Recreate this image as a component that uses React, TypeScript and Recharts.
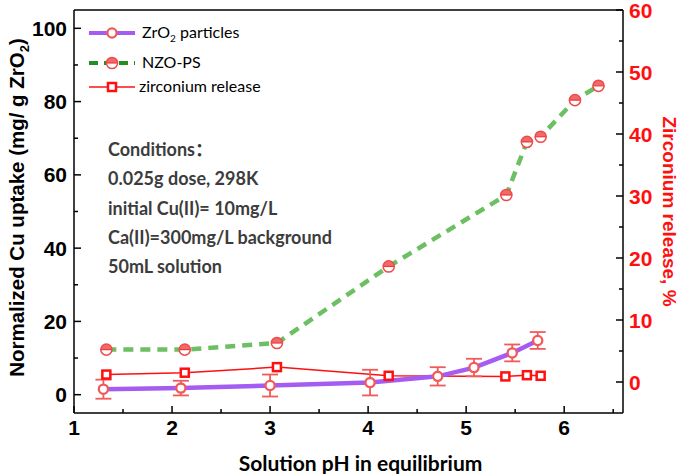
import React from 'react';
import { ComposedChart, Line, XAxis, YAxis, ErrorBar, Legend, Label, ReferenceLine } from 'recharts';

// ZrO2 particles (left axis)
const zrPH = [1.3, 2.09, 3.0, 4.02, 4.71, 5.08, 5.47, 5.73];
const zrUptake = [1.5, 1.8, 2.5, 3.3, 5.0, 7.4, 11.4, 14.8];
const zrErr = [2.6, 2.0, 3.0, 3.5, 2.5, 2.4, 2.3, 2.3];

// NZO-PS (left axis)
const nzPH = [1.33, 2.13, 3.07, 4.21, 5.41, 5.62, 5.76, 6.11, 6.35];
const nzUptake = [12.3, 12.3, 14.1, 35.0, 54.5, 69.0, 70.4, 80.4, 84.3];

// zirconium release (right axis, %)
const relPH = [1.33, 2.13, 3.07, 4.21, 5.4, 5.62, 5.76];
const relPct = [1.2, 1.5, 2.4, 1.0, 0.9, 1.1, 1.0];

const xTicks = [1, 1.5, 2, 2.5, 3, 3.5, 4, 4.5, 5, 5.5, 6, 6.5];
const leftTicks = [0, 10, 20, 30, 40, 50, 60, 70, 80, 90, 100];
const rightTicks = [0, 5, 10, 15, 20, 25, 30, 35, 40, 45, 50, 55, 60];

const conditions = [
  'Conditions：',
  '0.025g dose, 298K',
  'initial Cu(II)= 10mg/L',
  'Ca(II)=300mg/L background',
  '50mL solution',
];

// merged table keyed by pH
const rowMap = new Map<number, any>();
const row = (ph: number) => {
  if (!rowMap.has(ph)) rowMap.set(ph, { ph });
  return rowMap.get(ph);
};
zrPH.forEach((ph, i) => {
  const r = row(ph);
  r.zr = zrUptake[i];
  r.zrErr = zrErr[i];
});
nzPH.forEach((ph, i) => {
  row(ph).nz = nzUptake[i];
});
relPH.forEach((ph, i) => {
  row(ph).rel = relPct[i];
});
const tableData = Array.from(rowMap.values()).sort((a, b) => a.ph - b.ph);

const ARIAL = '"Liberation Sans", Arial, sans-serif';
const CAL = 'Lato, "Noto Sans CJK SC", sans-serif';
const PURPLE = '#a45cf2';
const GREEN = '#6cbf62';
const MRED = '#f25a5a';
const RED = '#ff1010';

const LeftTick = (p: any) => {
  const { x, y, payload } = p;
  const v = payload.value;
  const major = v % 20 === 0;
  return (
    <g>
      <line x1={x} y1={y} x2={x + (major ? 7 : 4)} y2={y} stroke="#000" strokeWidth={1.5} />
      {major && (
        <text x={x - 7} y={y} dy="0.36em" textAnchor="end" fontFamily={ARIAL} fontWeight="bold" fontSize={21} fill="#000">
          {v}
        </text>
      )}
    </g>
  );
};

const RightTick = (p: any) => {
  const { x, y, payload } = p;
  const v = payload.value;
  const major = v % 10 === 0;
  return (
    <g>
      <line x1={x} y1={y} x2={x - (major ? 7 : 4)} y2={y} stroke="#000" strokeWidth={1.5} />
      {major && (
        <text x={x + 6} y={y} dy="0.36em" textAnchor="start" fontFamily={ARIAL} fontWeight="bold" fontSize={21} fill={RED}>
          {v}
        </text>
      )}
    </g>
  );
};

const BottomTick = (p: any) => {
  const { x, y, payload } = p;
  const v = payload.value;
  const major = Number.isInteger(v);
  return (
    <g>
      <line x1={x} y1={y} x2={x} y2={y - (major ? 7 : 4)} stroke="#000" strokeWidth={1.5} />
      {major && (
        <text x={x} y={y + 22} textAnchor="middle" fontFamily={ARIAL} fontWeight="bold" fontSize={21} fill="#000">
          {v}
        </text>
      )}
    </g>
  );
};

const OpenCircle = (p: any) => {
  const { cx, cy, index } = p;
  if (cx == null || cy == null || p.value == null) return <g key={index} />;
  return <circle key={index} cx={cx} cy={cy} r={4.6} fill="#fff" stroke={MRED} strokeWidth={2.3} />;
};

const HalfCircle = (p: any) => {
  const { cx, cy, index } = p;
  if (cx == null || cy == null || p.value == null) return <g key={index} />;
  const r = 5.6;
  return (
    <g key={index}>
      <circle cx={cx} cy={cy} r={r} fill="#fff" />
      <path d={`M${cx - r},${cy} A${r},${r} 0 0 1 ${cx + r},${cy} Z`} fill="#f36868" />
      <line x1={cx - r} y1={cy} x2={cx + r} y2={cy} stroke="#e83c3c" strokeWidth={1.2} />
      <circle cx={cx} cy={cy} r={r} fill="none" stroke="#ee4a4a" strokeWidth={1.5} />
    </g>
  );
};

const OpenSquare = (p: any) => {
  const { cx, cy, index } = p;
  if (cx == null || cy == null || p.value == null) return <g key={index} />;
  const s = 4;
  return <rect key={index} x={cx - s} y={cy - s} width={2 * s} height={2 * s} fill="#fff" stroke={RED} strokeWidth={2.5} />;
};

const LeftTitle = (p: any) => {
  const vb = p.viewBox || {};
  const cx = (vb.x ?? 0) + 17;
  const cy = (vb.y ?? 10) + (vb.height ?? 403) / 2 - 4;
  return (
    <text transform={`rotate(-90 ${cx} ${cy})`} x={cx} y={cy} dy="0.36em" textAnchor="middle" fontFamily={ARIAL} fontWeight="bold" fontSize={20.5} fill="#000">
      Normalized Cu uptake (mg/ g ZrO
      <tspan fontSize={13} dy={5}>2</tspan>
      <tspan dy={-5}>)</tspan>
    </text>
  );
};

const RightTitle = (p: any) => {
  const vb = p.viewBox || {};
  const cx = (vb.x ?? 623) + 47;
  const cy = (vb.y ?? 10) + (vb.height ?? 403) / 2;
  return (
    <text transform={`rotate(90 ${cx} ${cy})`} x={cx} y={cy} dy="0.36em" textAnchor="middle" fontFamily={ARIAL} fontWeight="bold" fontSize={19} fill={RED}>
      Zirconium release, %
    </text>
  );
};

const BottomTitle = (p: any) => {
  const vb = p.viewBox || {};
  const cx = (vb.x ?? 74) + (vb.width ?? 549) / 2 + 12;
  const cy = (vb.y ?? 413) + 50;
  return (
    <text x={cx} y={cy} dy="0.36em" textAnchor="middle" fontFamily={CAL} fontWeight="bold" fontSize={21} fill="#000">
      Solution pH in equilibrium
    </text>
  );
};

const LegendBox = () => (
  <svg width={685} height={474} style={{ position: 'absolute', left: 0, top: 0 }}>
    <g>
      <line x1={89} y1={33} x2={135} y2={33} stroke={PURPLE} strokeWidth={4} />
      <circle cx={112} cy={33} r={4.6} fill="#fff" stroke={MRED} strokeWidth={2.3} />
      <text x={142} y={38} fontFamily={CAL} fontSize={16} fill="#000">
        ZrO<tspan fontSize={10} dy={4}>2</tspan>
        <tspan dy={-4}> particles</tspan>
      </text>
    </g>
    <g>
      <line x1={89} y1={63} x2={135} y2={63} stroke="#238f23" strokeWidth={4} strokeDasharray="9 6" />
      <HalfCircle cx={112} cy={63} index={0} value={1} />
      <text x={142} y={68} fontFamily={CAL} fontSize={16} fill="#000">NZO-PS</text>
    </g>
    <g>
      <line x1={89} y1={87} x2={135} y2={87} stroke={RED} strokeWidth={1.5} />
      <OpenSquare cx={112} cy={87} index={0} value={1} />
      <text x={139} y={92} fontFamily={CAL} fontSize={16} fill="#000">zirconium release</text>
    </g>
  </svg>
);

export default function App() {
  return (
    <div style={{ position: 'absolute', left: 0, top: 0, width: 685, height: 474, background: '#fff' }}>
      <ComposedChart width={685} height={474} data={tableData} margin={{ top: 10, right: 0, bottom: 0, left: 0 }}>
        <XAxis
          dataKey="ph"
          type="number"
          domain={[1, 6.6]}
          ticks={xTicks}
          interval={0}
          height={61}
          tickSize={0}
          tickMargin={0}
          tickLine={false}
          tick={<BottomTick />}
          axisLine={{ stroke: '#000', strokeWidth: 1.5 }}
        >
          <Label content={<BottomTitle />} />
        </XAxis>
        <YAxis
          yAxisId="left"
          type="number"
          domain={[-5, 105]}
          ticks={leftTicks}
          interval={0}
          width={74}
          tickSize={0}
          tickMargin={0}
          tickLine={false}
          tick={<LeftTick />}
          axisLine={{ stroke: '#000', strokeWidth: 1.5 }}
        >
          <Label content={<LeftTitle />} />
        </YAxis>
        <YAxis
          yAxisId="right"
          orientation="right"
          type="number"
          domain={[-5, 60]}
          ticks={rightTicks}
          interval={0}
          width={62}
          tickSize={0}
          tickMargin={0}
          tickLine={false}
          tick={<RightTick />}
          axisLine={{ stroke: '#000', strokeWidth: 1.5 }}
        >
          <Label content={<RightTitle />} />
        </YAxis>
        <ReferenceLine yAxisId="left" y={105} stroke="#000" strokeWidth={1.5} />
        <Line
          yAxisId="left"
          dataKey="nz"
          type="linear"
          connectNulls
          stroke={GREEN}
          strokeWidth={4.5}
          strokeDasharray="10 7"
          dot={HalfCircle}
          activeDot={false}
          isAnimationActive={false}
        />
        <Line
          yAxisId="right"
          dataKey="rel"
          type="linear"
          connectNulls
          stroke={RED}
          strokeWidth={1.5}
          dot={OpenSquare}
          activeDot={false}
          isAnimationActive={false}
        />
        <Line
          yAxisId="left"
          dataKey="zr"
          type="linear"
          connectNulls
          stroke={PURPLE}
          strokeWidth={4.5}
          dot={OpenCircle}
          activeDot={false}
          isAnimationActive={false}
        >
          <ErrorBar dataKey="zrErr" direction="y" width={8} stroke={MRED} strokeWidth={1.8} />
        </Line>
        <Legend
          layout="horizontal"
          verticalAlign="middle"
          align="center"
          content={<LegendBox />}
          wrapperStyle={{ position: 'absolute', left: 0, top: 0, width: 685, height: 474, pointerEvents: 'none' }}
        />
      </ComposedChart>
      <svg width={685} height={474} style={{ position: 'absolute', left: 0, top: 0, pointerEvents: 'none' }}>
        {conditions.map((t, i) => (
          <text key={i} x={108} y={156 + i * 29.3} fontFamily={CAL} fontWeight="bold" fontSize={18} fill="#3c3c3c">
            {t}
          </text>
        ))}
      </svg>
    </div>
  );
}
